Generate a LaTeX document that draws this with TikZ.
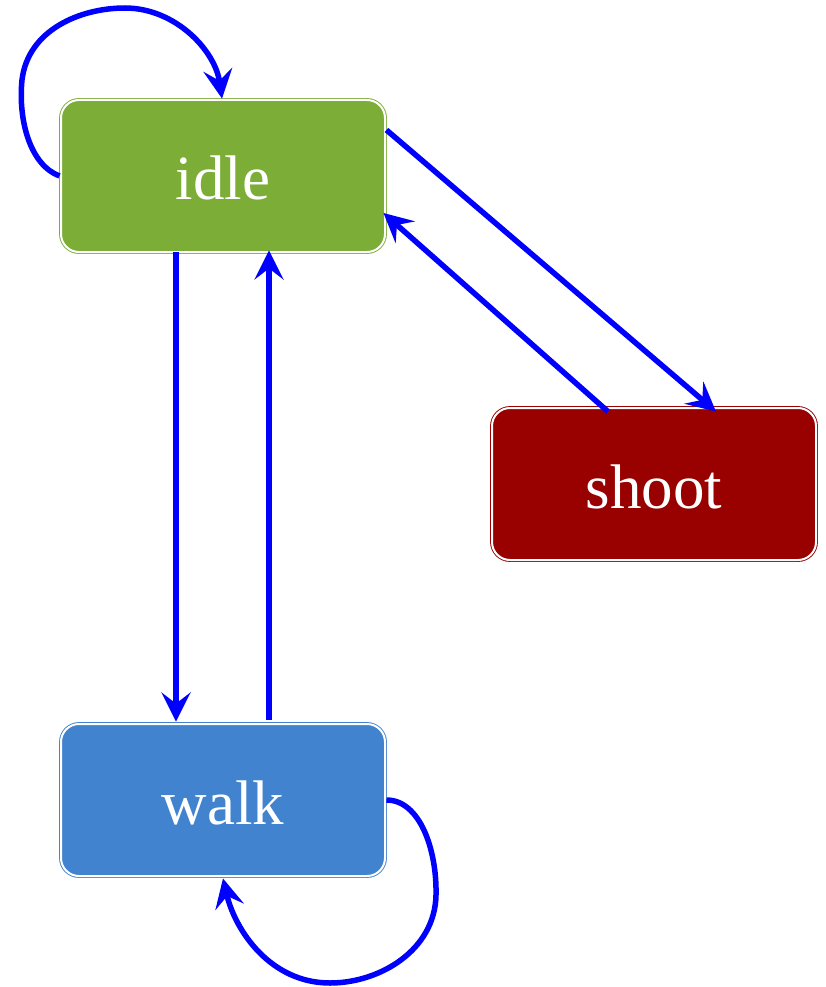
\documentclass[tikz,border=0pt]{standalone}
\usepackage{fontspec}
\setmainfont{Liberation Serif}
\usetikzlibrary{arrows.meta}
\definecolor{idlegreen}{RGB}{123,173,55}
\definecolor{shootred}{RGB}{153,0,0}
\definecolor{walkblue}{RGB}{65,131,207}
\definecolor{edgeblue}{RGB}{0,0,255}
\tikzset{
  state/.style={draw=#1, fill=#1, double=white, double distance=2pt, line width=0.9pt,
    rounded corners=18pt, minimum width=324pt, minimum height=152pt, inner sep=0pt,
    text=white, font=\fontsize{63}{63}\selectfont, text height=48pt, text depth=0pt},
  conn/.style={draw=edgeblue, line width=5.5pt,
    -{Stealth[length=29pt,width=29pt,inset=11pt]}}
}
\begin{document}
\begin{tikzpicture}[x=1pt,y=-1pt]
\useasboundingbox (0,0) rectangle (826,987);
\node[state=idlegreen] (idle) at (223,176) {idle};
\node[state=shootred] (shoot) at (654,484) {shoot};
\node[state=walkblue] (walk) at (223,800) {walk};
% self loop on idle
\draw[conn] ([xshift=-1pt]idle.west) .. controls (30,165) and (18,120) .. (22,80)
  .. controls (28,30) and (80,8) .. (125,8)
  .. controls (175,8) and (215,50) .. ([xshift=-1pt,yshift=1pt]idle.north);
% idle <-> walk
\draw[conn] ([xshift=-47pt]idle.south) -- ([xshift=-47pt,yshift=2pt]walk.north);
\draw[conn] ([xshift=46pt,yshift=4pt]walk.north) -- ([xshift=46pt,yshift=2pt]idle.south);
% idle <-> shoot
\draw[conn] ([xshift=1pt,yshift=46pt]idle.east) -- ([xshift=62pt,yshift=-4pt]shoot.north);
\draw[conn] ([xshift=-46pt,yshift=-4pt]shoot.north) -- ([xshift=-2pt,yshift=-37pt]idle.east);
% self loop on walk
\draw[conn] ([xshift=1pt]walk.east) .. controls (420,800) and (437,850) .. (436,895)
  .. controls (435,950) and (380,983) .. (330,983)
  .. controls (270,983) and (235,930) .. ([yshift=-2pt]walk.south);
\end{tikzpicture}
\end{document}
